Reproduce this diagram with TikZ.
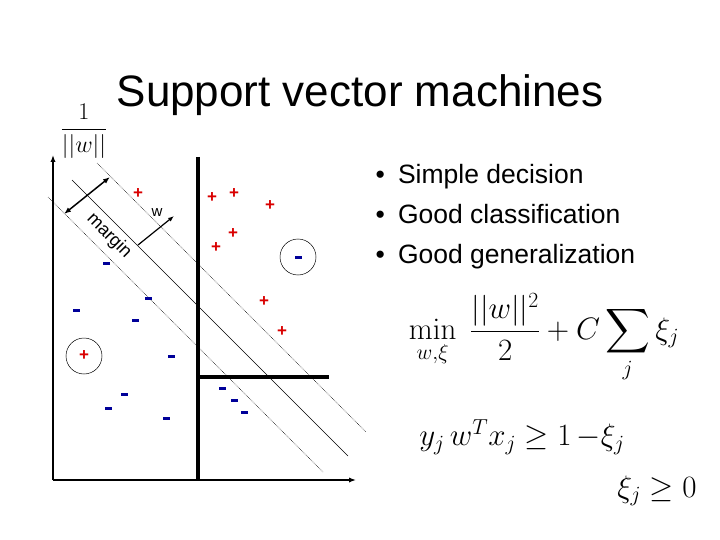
\documentclass[tikz,border=0pt]{standalone}
\usepackage{fix-cm}
\usepackage{amsmath,amssymb}
\usepackage[no-math]{fontspec}
\setmainfont{Liberation Sans}
\usepackage{tikz}
\usetikzlibrary{arrows.meta,positioning}

\begin{document}
\begin{tikzpicture}[x=1pt, y=-1pt,
  pl/.style={text=red!85!black, font=\fontsize{17}{17}\selectfont\bfseries, inner sep=0pt},
  mi/.style={fill=blue!60!black, minimum width=7pt, minimum height=3pt, inner sep=0pt},
  ax/.style={line width=2pt, -{Latex[length=7pt]}},
  sep/.style={line width=3.5pt},
  mg/.style={densely dotted, line width=0.6pt},
  ar/.style={line width=1.5pt, {Latex[length=7pt]}-{Latex[length=7pt]}},
  txt/.style={font=\fontsize{26.5}{40}\selectfont, align=left},
  eq/.style={font=\fontsize{31}{31}\selectfont}
]
\useasboundingbox (0,0) rectangle (720,540);

\node[font=\fontsize{44}{44}\selectfont] (title) at (360,95) {Support vector machines};
\node[font=\fontsize{24}{24}\selectfont] (norm) at (84,131) {$\dfrac{1}{||w||}$};

% axes and separator
\coordinate (O) at (53,480);
\coordinate (Y) at (53,155);
\coordinate (X) at (356,480);
\draw[ax] (O) -- (Y);
\draw[ax] (O) -- (X);
\coordinate (s1) at (198,157);
\coordinate (s2) at (198,480);
\coordinate (s3) at (198,377);
\coordinate (s4) at (329,377);
\draw[sep] (s1) -- (s2);
\draw[sep] (s3) -- (s4);

% margin lines
\coordinate (u1) at (97,163);  \coordinate (u2) at (366,432);
\coordinate (c1) at (72,180);  \coordinate (c2) at (348,456);
\coordinate (l1) at (48,197);  \coordinate (l2) at (323,472);
\draw[mg] (u1) -- (u2);
\draw[line width=0.6pt] (c1) -- (c2);
\draw[mg] (l1) -- (l2);

\coordinate (m1) at (64,214);  \coordinate (m2) at (110,177);
\draw[ar] (m1) -- (m2);
\coordinate (w1) at (138,245); \coordinate (w2) at (174,216);
\draw[line width=1.2pt, -{Latex[length=6pt]}] (w1) -- (w2);
\node[font=\fontsize{15}{15}\selectfont] (wl) at (157,213) {w};
\node[font=\fontsize{18}{18}\selectfont, rotate=-45] (mgl) at (109,236) {margin};

% positive points
\foreach \x/\y [count=\i] in {138/194, 212/198, 234/194, 270/206, 233/234,
    216/248, 264/302, 282/332, 84/356}
  \node[pl] (p\i) at (\x,\y) {+};
% negative points
\foreach \x/\y [count=\i] in {106/263, 148/298, 76/310, 135/320, 171/356,
    298/257, 124/394, 108/408, 166/418, 222/388, 234/400, 244/412}
  \node[mi] (n\i) at (\x,\y) {};
\draw[line width=0.5pt] (p9) circle (18);
\draw[line width=0.5pt] (n6) circle (18);

% text
\node[txt, anchor=west] (bul) at (372,217) {\textbullet\enspace Simple decision\\
  \textbullet\enspace Good classification\\
  \textbullet\enspace Good generalization};
\node[eq] (obj) at (544,338)
  {$\displaystyle\min_{w,\xi}\ \frac{||w||^2}{2}+C\sum_j \xi_j$};
\node[eq] (con) at (522,437) {$y_j\,w^T x_j\geq 1\,{-}\xi_j$};
\node[eq] (pos) at (657,491) {$\xi_j\geq 0$};
\end{tikzpicture}
\end{document}
